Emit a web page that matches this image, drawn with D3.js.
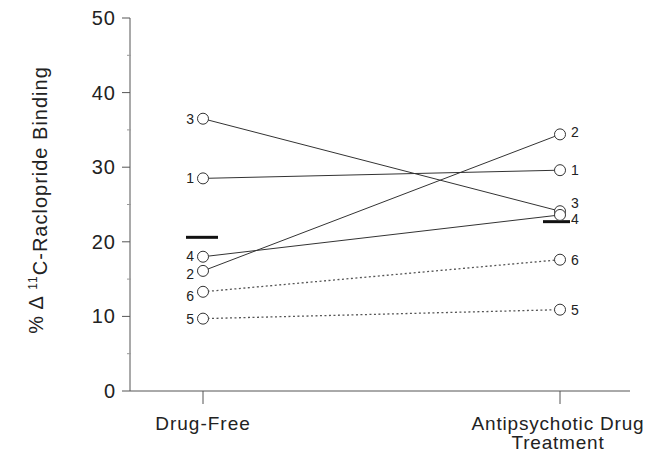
<!DOCTYPE html>
<html>
<head>
<meta charset="utf-8">
<script src="https://cdn.jsdelivr.net/npm/d3@7"></script>
<style>
  body { margin: 0; background: #fff; }
  text { font-family: Arial, "Liberation Sans", sans-serif; fill: #222; }
</style>
</head>
<body>
<div id="chart"></div>
<script>
// Data
var conditions = ["Drug-Free", "Antipsychotic Drug Treatment"];
var subjects = ["1", "2", "3", "4", "5", "6"];
var drugFree = [28.5, 16.1, 36.5, 18.0, 9.7, 13.3];
var treatment = [29.6, 34.4, 24.1, 23.6, 10.9, 17.6];
var dotted = [false, false, false, false, true, true];
var means = [20.6, 22.7];
var yTicks = [0, 10, 20, 30, 40, 50];
var yMinorTicks = [5, 15, 25, 35, 45];

// label nudges (px) so stacked numbers don't collide
var leftNudge = [0, 3, 0, -1, 0, 4];
var rightNudge = [0, -2, -8, 4, 0, 0];

var svgWidth = 649, svgHeight = 453;
var margin = { top: 18, right: 19, bottom: 62, left: 130 };
var width = svgWidth - margin.left - margin.right;
var height = svgHeight - margin.top - margin.bottom;

var svg = d3.select("#chart").append("svg")
    .attr("width", svgWidth)
    .attr("height", svgHeight);

var chartGroup = svg.append("g")
    .attr("transform", `translate(${margin.left}, ${margin.top})`);

var x = d3.scalePoint().domain(conditions).range([73, 430]);
var y = d3.scaleLinear().domain([0, 50]).range([height, 0]);

// Axes
var axisColor = "#555";
chartGroup.append("line")
    .attr("x1", 0).attr("x2", 0).attr("y1", 0).attr("y2", height)
    .attr("stroke", axisColor);
chartGroup.append("line")
    .attr("x1", 0).attr("x2", width).attr("y1", height).attr("y2", height)
    .attr("stroke", axisColor);

chartGroup.selectAll(".ytick").data(yTicks).enter().append("line")
    .attr("x1", -8).attr("x2", 0)
    .attr("y1", d => y(d)).attr("y2", d => y(d))
    .attr("stroke", axisColor);
chartGroup.selectAll(".yminor").data(yMinorTicks).enter().append("line")
    .attr("x1", -3).attr("x2", 1)
    .attr("y1", d => y(d)).attr("y2", d => y(d))
    .attr("stroke", "#999");
chartGroup.selectAll(".ylab").data(yTicks).enter().append("text")
    .attr("x", -14).attr("y", d => y(d))
    .attr("dy", "0.35em")
    .attr("text-anchor", "end")
    .style("font-size", "20px")
    .style("letter-spacing", "1px")
    .text(d => d);

chartGroup.selectAll(".xtick").data(conditions).enter().append("line")
    .attr("x1", d => x(d)).attr("x2", d => x(d))
    .attr("y1", height).attr("y2", height + 13)
    .attr("stroke", axisColor);

chartGroup.append("text")
    .attr("x", x(conditions[0])).attr("y", height + 39)
    .attr("text-anchor", "middle")
    .style("font-size", "19px")
    .style("letter-spacing", "1px")
    .text("Drug-Free");
var xl2 = chartGroup.append("text")
    .attr("x", x(conditions[1])).attr("y", height + 39)
    .attr("text-anchor", "middle")
    .style("font-size", "19px")
    .style("letter-spacing", "0.8px");
xl2.append("tspan").attr("x", x(conditions[1]) - 2).text("Antipsychotic Drug");
xl2.append("tspan").attr("x", x(conditions[1]) - 2).attr("dy", "19px").text("Treatment");

// Y label
var ylab = svg.append("text")
    .attr("transform", "translate(43, 200) rotate(-90)")
    .attr("text-anchor", "middle")
    .style("font-size", "20px")
    .style("letter-spacing", "1px");
ylab.append("tspan").text("% \u0394 ");
ylab.append("tspan").attr("dy", "-0.5em").style("font-size", "12px").text("11");
ylab.append("tspan").attr("dy", "0.5em").text("C-Raclopride Binding");

// Lines per subject
var pairs = subjects.map(function(s, i) {
    return { id: s, a: drugFree[i], b: treatment[i], dotted: dotted[i], ln: leftNudge[i], rn: rightNudge[i] };
});

chartGroup.selectAll(".pair").data(pairs).enter().append("line")
    .attr("x1", x(conditions[0])).attr("x2", x(conditions[1]))
    .attr("y1", d => y(d.a)).attr("y2", d => y(d.b))
    .attr("stroke", d => d.dotted ? "#555" : "#333")
    .attr("stroke-width", d => d.dotted ? 1.3 : 1)
    .attr("stroke-dasharray", d => d.dotted ? "2,2.5" : null);

// Mean bars
chartGroup.selectAll(".mean").data(means).enter().append("line")
    .attr("x1", (d, i) => x(conditions[i]) - 17)
    .attr("x2", (d, i) => x(conditions[i]) + (i === 0 ? 15 : 10))
    .attr("y1", d => y(d)).attr("y2", d => y(d))
    .attr("stroke", "#111")
    .attr("stroke-width", 3);

// Circles
var pts = [];
pairs.forEach(function(p) {
    pts.push({ c: conditions[0], v: p.a });
    pts.push({ c: conditions[1], v: p.b });
});
chartGroup.selectAll(".pt").data(pts).enter().append("circle")
    .attr("cx", d => x(d.c)).attr("cy", d => y(d.v))
    .attr("r", 5.5)
    .attr("fill", "#fff")
    .attr("stroke", "#333")
    .attr("stroke-width", 1);

// Subject labels
chartGroup.selectAll(".lab-l").data(pairs).enter().append("text")
    .attr("x", x(conditions[0]) - 9).attr("y", d => y(d.a) + d.ln)
    .attr("dy", "0.35em")
    .attr("text-anchor", "end")
    .style("font-size", "14px")
    .text(d => d.id);
chartGroup.selectAll(".lab-r").data(pairs).enter().append("text")
    .attr("x", x(conditions[1]) + 11).attr("y", d => y(d.b) + d.rn)
    .attr("dy", "0.35em")
    .style("font-size", "14px")
    .text(d => d.id);
</script>
</body>
</html>
